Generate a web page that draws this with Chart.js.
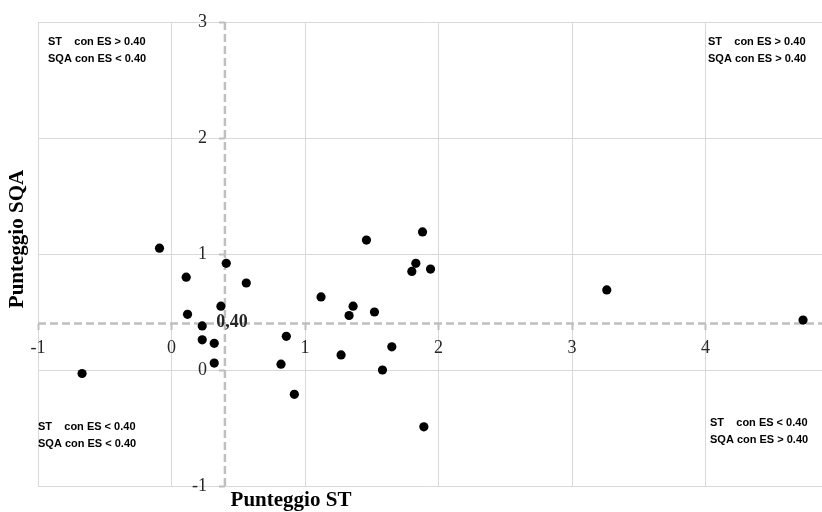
<!DOCTYPE html>
<html>
<head>
<meta charset="utf-8">
<script src="https://cdn.jsdelivr.net/npm/chart.js@4"></script>
<style>
  html, body { margin: 0; background: #fff; overflow: hidden; }
  /* il riquadro del grafico prosegue oltre il bordo destro, come nell'originale */
  #wrap { width: 827px; height: 512px; position: relative; }
</style>
</head>
<body>
<div id="wrap"><canvas id="quadChart"></canvas></div>
<script>
// punteggi (ST in ascissa, SQA in ordinata)
const stScores  = [-0.67, -0.09, 0.11, 0.12, 0.23, 0.23, 0.32, 0.32, 0.37, 0.41, 0.56, 0.82, 0.86, 0.92, 1.12,
                   1.27, 1.33, 1.36, 1.46, 1.52, 1.58, 1.65, 1.80, 1.83, 1.88, 1.89, 1.94, 3.26, 4.73];
const sqaScores = [-0.03, 1.05, 0.80, 0.48, 0.38, 0.26, 0.23, 0.06, 0.55, 0.92, 0.75, 0.05, 0.29, -0.21, 0.63,
                   0.13, 0.47, 0.55, 1.12, 0.50, 0.00, 0.20, 0.85, 0.92, 1.19, -0.49, 0.87, 0.69, 0.43];

const threshold = 0.40;
const thresholdLabel = '0,40';
const xRange = [-1, 4.875];
const yRange = [-1, 3];

const quadrantLabels = [
  ['ST    con ES > 0.40', 'SQA con ES < 0.40'],  // alto sinistra
  ['ST    con ES > 0.40', 'SQA con ES > 0.40'],  // alto destra
  ['ST    con ES < 0.40', 'SQA con ES < 0.40'],  // basso sinistra
  ['ST    con ES < 0.40', 'SQA con ES > 0.40']   // basso destra
];
const xTitle = 'Punteggio ST';
const yTitle = 'Punteggio SQA';

/*********************************************/

const points = stScores.map((x, i) => ({ x: x, y: sqaScores[i] }));
const serif = '"Liberation Serif", "Times New Roman", serif';

// testi extra: etichette asse y, riquadri, etichetta 0,40 e titoli assi
const textPlugin = {
  id: 'textPlugin',
  afterDraw(chart) {
    const ctx = chart.ctx;
    const xs = chart.scales.x;
    const ys = chart.scales.y;
    const axisX = xs.getPixelForValue(threshold);
    ctx.save();

    // le etichette dell'asse y stanno a sinistra della linea tratteggiata
    ctx.fillStyle = '#262626';
    ctx.textAlign = 'right';
    ctx.textBaseline = 'middle';
    ctx.font = '18px ' + serif;
    ys.ticks.forEach(t => {
      ctx.fillText(String(t.value), axisX - 18, ys.getPixelForValue(t.value));
    });

    ctx.fillStyle = '#000';
    ctx.textAlign = 'left';
    ctx.font = 'bold 11px "Liberation Sans", Arial, sans-serif';
    const spots = [[48, 42], [708, 42], [38, 427], [710, 423]];
    quadrantLabels.forEach((lines, i) => {
      ctx.fillText(lines[0], spots[i][0], spots[i][1]);
      ctx.fillText(lines[1], spots[i][0], spots[i][1] + 16.5);
    });

    ctx.fillStyle = '#262626';
    ctx.textAlign = 'center';
    ctx.font = 'bold 18px ' + serif;
    ctx.fillText(thresholdLabel, axisX + 7, ys.getPixelForValue(threshold) - 1);

    ctx.fillStyle = '#000';
    ctx.font = 'bold 21px ' + serif;
    ctx.fillText(xTitle, 291, 501);
    ctx.translate(18, 239);
    ctx.rotate(-Math.PI / 2);
    ctx.fillText(yTitle, 0, 0);
    ctx.restore();
  }
};

function quadChart() {
  const data = {
    datasets: [
      {
        label: 'Scuole',
        data: points,
        pointRadius: 4.6,
        pointBackgroundColor: '#000',
        pointBorderWidth: 0,
        order: 0
      },
      {
        type: 'line',
        data: [{ x: threshold, y: yRange[0] }, { x: threshold, y: yRange[1] }],
        borderColor: '#bfbfbf',
        borderWidth: 2.5,
        borderDash: [8, 4],
        pointRadius: 0,
        order: 1
      },
      {
        type: 'line',
        data: [{ x: xRange[0], y: threshold }, { x: 5, y: threshold }],
        borderColor: '#bfbfbf',
        borderWidth: 2.5,
        borderDash: [8, 4],
        pointRadius: 0,
        order: 1
      }
    ]
  };

  const options = {
    responsive: true,
    maintainAspectRatio: false,
    animation: false,
    layout: { padding: { left: 38, top: 22, right: 0, bottom: 26 } },
    scales: {
      x: {
        type: 'linear',
        min: xRange[0],
        max: xRange[1],
        position: { y: threshold },
        afterFit: (scale) => { scale.height = 0; },
        border: { display: false },
        grid: { color: '#d9d9d9', tickColor: '#bfbfbf', tickWidth: 2, tickLength: 6 },
        ticks: { stepSize: 1, includeBounds: false, padding: 8, color: '#262626', font: { family: serif, size: 18 } }
      },
      y: {
        type: 'linear',
        min: yRange[0],
        max: yRange[1],
        position: { x: threshold },
        afterFit: (scale) => { scale.width = 0; },
        border: { display: false },
        grid: { color: '#d9d9d9', tickColor: '#bfbfbf', tickWidth: 2, tickLength: 6 },
        ticks: { stepSize: 1, display: false }
      }
    },
    plugins: {
      legend: { display: false },
      tooltip: { enabled: false }
    }
  };

  //config
  const config = {
    type: 'scatter',
    data,
    options,
    plugins: [textPlugin]
  };

  const chart = new Chart(document.getElementById('quadChart'), config);
}

quadChart();
</script>
</body>
</html>
